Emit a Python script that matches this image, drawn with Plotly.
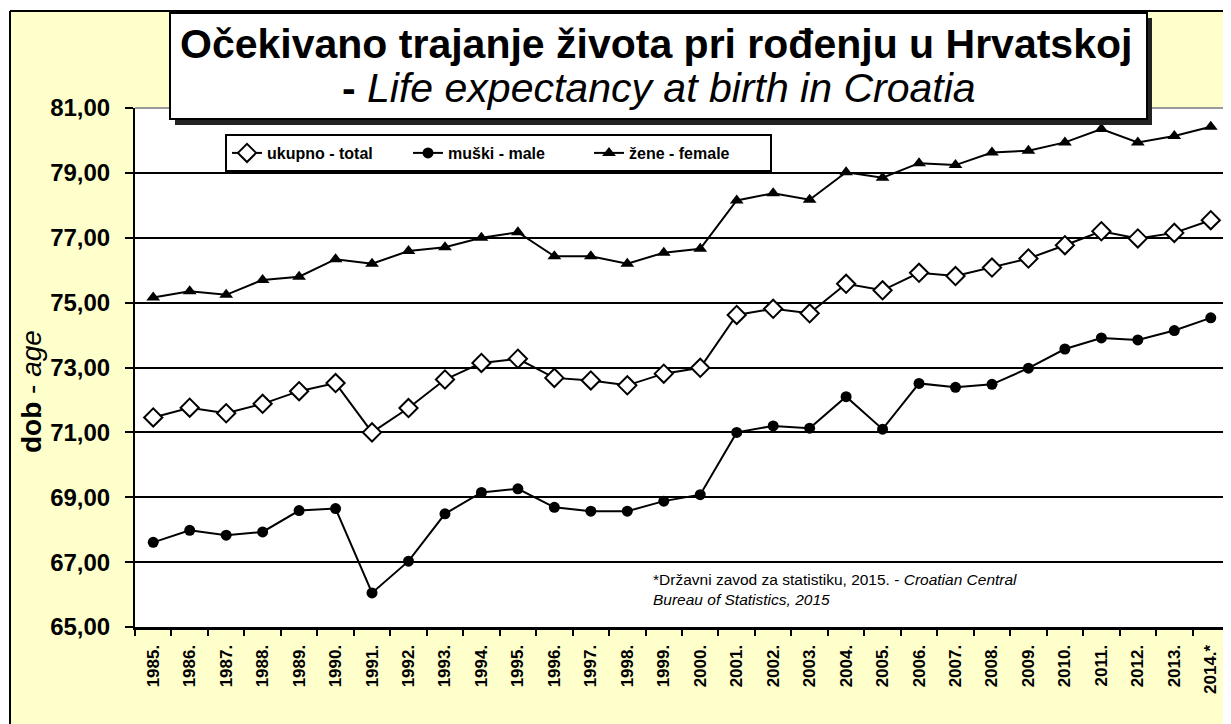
import plotly.graph_objects as go

# Life expectancy at birth in Croatia (DZS, 2015)
years = ["1985.", "1986.", "1987.", "1988.", "1989.", "1990.", "1991.", "1992.", "1993.", "1994.",
         "1995.", "1996.", "1997.", "1998.", "1999.", "2000.", "2001.", "2002.", "2003.", "2004.",
         "2005.", "2006.", "2007.", "2008.", "2009.", "2010.", "2011.", "2012.", "2013.", "2014.*"]

total = [71.46, 71.76, 71.59, 71.88, 72.27, 72.52, 71.00, 71.75, 72.63, 73.14,
         73.27, 72.68, 72.60, 72.45, 72.81, 72.99, 74.62, 74.81, 74.67, 75.58,
         75.38, 75.92, 75.82, 76.08, 76.36, 76.77, 77.20, 76.98, 77.15, 77.54]

male = [67.61, 67.98, 67.83, 67.93, 68.59, 68.65, 66.05, 67.03, 68.49, 69.15,
        69.26, 68.69, 68.57, 68.57, 68.88, 69.08, 71.00, 71.20, 71.13, 72.10,
        71.10, 72.51, 72.39, 72.48, 72.98, 73.57, 73.91, 73.85, 74.14, 74.53]

female = [75.16, 75.35, 75.24, 75.70, 75.80, 76.34, 76.20, 76.59, 76.71, 77.00,
          77.17, 76.43, 76.43, 76.20, 76.54, 76.66, 78.15, 78.37, 78.17, 79.02,
          78.85, 79.30, 79.24, 79.63, 79.68, 79.94, 80.35, 79.94, 80.14, 80.42]

y_ticks = [65, 67, 69, 71, 73, 75, 77, 79, 81]

# page body has an 8px margin, so the figure is made smaller and shifted
OFF = 8
W, H = 1231 - OFF, 724 - OFF
PLOT_X0, PLOT_X1, PLOT_Y0, PLOT_Y1 = 135, 1229, 108, 627  # screen px
PW, PH = PLOT_X1 - PLOT_X0, PLOT_Y1 - PLOT_Y0


def px_x(px):
    return (px - PLOT_X0) / PW


def px_y(py):
    return (PLOT_Y1 - py) / PH


YELLOW = "#FFFFCC"
FONT = "Liberation Sans, Arial, sans-serif"

fig = go.Figure()

fig.add_trace(go.Scatter(
    x=years, y=total, name="ukupno - total", mode="lines+markers",
    line=dict(color="black", width=2),
    marker=dict(symbol="diamond", size=14, color="white", line=dict(color="black", width=2))
))
fig.add_trace(go.Scatter(
    x=years, y=male, name="muški - male", mode="lines+markers",
    line=dict(color="black", width=2),
    marker=dict(symbol="circle", size=11, color="black")
))
fig.add_trace(go.Scatter(
    x=years, y=female, name="žene - female", mode="lines+markers",
    line=dict(color="black", width=2),
    marker=dict(symbol="triangle-up", size=12, color="black")
))

shapes = [
    # white strips outside the chart frame
    dict(type="rect", xref="paper", yref="paper", x0=px_x(-20), x1=px_x(1260), y0=px_y(11), y1=px_y(-20),
         fillcolor="white", line_width=0, layer="below"),
    dict(type="rect", xref="paper", yref="paper", x0=px_x(-20), x1=px_x(10), y0=px_y(740), y1=px_y(11),
         fillcolor="white", line_width=0, layer="below"),
    # frame lines
    dict(type="line", xref="paper", yref="paper", x0=px_x(10), x1=px_x(1260), y0=px_y(11), y1=px_y(11),
         line=dict(color="black", width=2)),
    dict(type="line", xref="paper", yref="paper", x0=px_x(10), x1=px_x(10), y0=px_y(11), y1=px_y(740),
         line=dict(color="black", width=2)),
    # plot area top / right border
    dict(type="line", xref="paper", yref="paper", x0=0, x1=1, y0=1, y1=1,
         line=dict(color="#999999", width=2)),
    dict(type="line", xref="paper", yref="paper", x0=1, x1=1, y0=0, y1=1,
         line=dict(color="#999999", width=2)),
    # title box shadow and box
    dict(type="rect", xref="paper", yref="paper", x0=px_x(175), x1=px_x(1152), y0=px_y(125), y1=px_y(18),
         fillcolor="#222222", line_width=0),
    dict(type="rect", xref="paper", yref="paper", x0=px_x(170), x1=px_x(1147), y0=px_y(119), y1=px_y(13),
         fillcolor="white", line=dict(color="black", width=2)),
]

annotations = [
    dict(text="<b>Očekivano trajanje života pri rođenju u Hrvatskoj</b>",
         x=px_x(656), y=px_y(44), xref="paper", yref="paper", xanchor="center", yanchor="middle",
         showarrow=False, font=dict(family=FONT, size=41, color="black")),
    dict(text="<b>-</b> <i>Life expectancy at birth in Croatia</i>",
         x=px_x(659), y=px_y(88), xref="paper", yref="paper", xanchor="center", yanchor="middle",
         showarrow=False, font=dict(family=FONT, size=41, color="black")),
    dict(text="<b>dob</b> - <i>age</i>", textangle=-90,
         x=px_x(31), y=px_y(392), xref="paper", yref="paper", xanchor="center", yanchor="middle",
         showarrow=False, font=dict(family=FONT, size=28, color="black")),
    dict(text="*Državni zavod za statistiku, 2015. - <i>Croatian Central</i><br><i>Bureau of Statistics, 2015</i>",
         x=px_x(651), y=px_y(589), xref="paper", yref="paper", xanchor="left", yanchor="middle",
         align="left", showarrow=False,
         font=dict(family=FONT, size=15.5, color="black")),
]

fig.update_layout(
    width=W, height=H,
    margin=dict(l=PLOT_X0 - OFF, r=W - (PLOT_X1 - OFF), t=PLOT_Y0 - OFF, b=H - (PLOT_Y1 - OFF)),
    paper_bgcolor=YELLOW,
    plot_bgcolor="white",
    separators=",.",
    font=dict(family=FONT, color="black"),
    shapes=shapes,
    annotations=annotations,
    legend=dict(
        orientation="h", x=px_x(225), xanchor="left", y=px_y(134), yanchor="top",
        bgcolor="white", bordercolor="black", borderwidth=2,
        font=dict(family=FONT, size=16, color="black", weight="bold"),
        entrywidth=136,
        itemclick=False,
    ),
)

fig.update_xaxes(
    type="category", range=[-0.5, len(years) - 0.5],
    showgrid=False, showline=True, linecolor="black", linewidth=3,
    ticks="outside", tickson="boundaries", ticklen=6, tickwidth=2, tickcolor="black",
    tickangle=-90, ticklabelstandoff=8,
    tickfont=dict(family=FONT, size=17, color="black", weight="bold"),
)

fig.update_yaxes(
    range=[65, 81], tickvals=y_ticks, tickformat=".2f",
    showgrid=True, gridcolor="black", gridwidth=2,
    showline=True, linecolor="black", linewidth=2,
    ticks="outside", ticklen=8, tickwidth=2, tickcolor="black",
    tickfont=dict(family=FONT, size=24, color="black", weight="bold"),
    ticklabelstandoff=10,
    zeroline=False,
)

fig.write_html("out.html")
